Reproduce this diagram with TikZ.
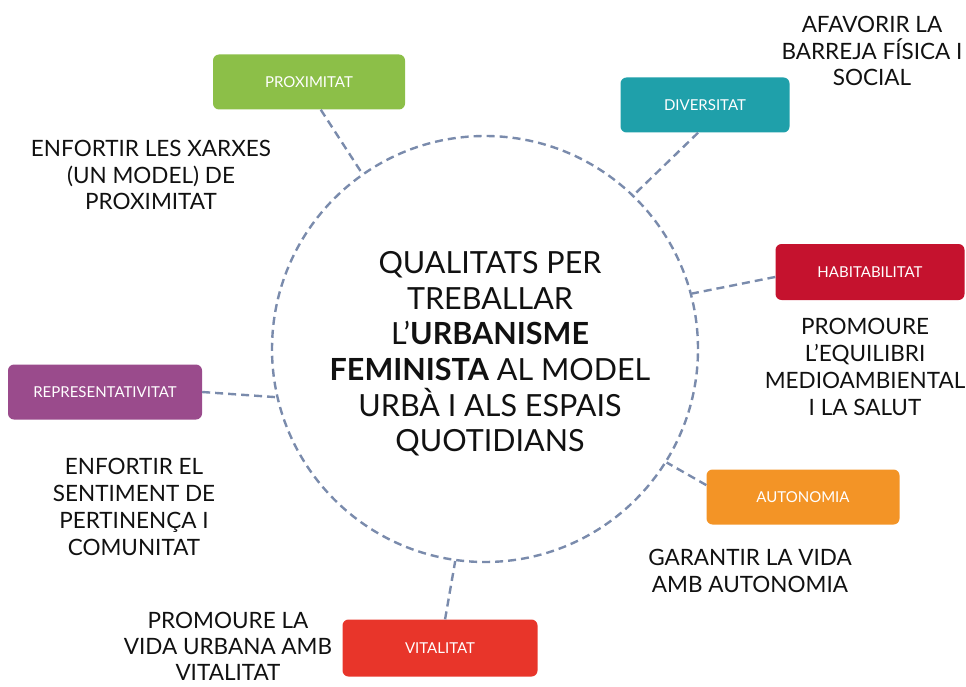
\documentclass[tikz,border=0pt]{standalone}
\usepackage{fontspec}
\setmainfont{Lato}
\definecolor{cGreen}{HTML}{8CBF48}
\definecolor{cTeal}{HTML}{1FA0AA}
\definecolor{cCrimson}{HTML}{C5122E}
\definecolor{cPurple}{HTML}{9A4B8C}
\definecolor{cRed}{HTML}{E8352A}
\definecolor{cOrange}{HTML}{F39426}
\definecolor{cLine}{HTML}{7A8BAC}
\definecolor{cText}{HTML}{111111}
\tikzset{
  qbox/.style={rounded corners=6pt, minimum height=55pt, text=white,
    font=\fontsize{15}{17}\selectfont, inner sep=0pt},
  conn/.style={draw=cLine, line width=2.4pt, dash pattern=on 8pt off 5pt},
  goal/.style={align=center, text=cText, font=\fontsize{22.5}{26.8}\selectfont, inner sep=0pt},
}
\begin{document}
\begin{tikzpicture}[x=1pt, y=-1pt]
\useasboundingbox (0,0) rectangle (966,687);
% central circle
\node[circle, conn, minimum size=426pt, inner sep=0pt] (C) at (485,349) {};
\node[align=center, text=cText, font=\fontsize{30.5}{35.6}\selectfont, inner sep=0pt] (T) at (490,354)
  {QUALITATS PER\\TREBALLAR\\L’\textbf{URBANISME}\\\textbf{FEMINISTA} AL MODEL\\URBÀ I ALS ESPAIS\\QUOTIDIANS};
% quality boxes
\node[qbox, fill=cGreen, minimum width=192pt] (P) at (309,82) {PROXIMITAT};
\node[qbox, fill=cTeal, minimum width=169pt] (D) at (705,105) {DIVERSITAT};
\node[qbox, fill=cCrimson, minimum width=189pt, minimum height=56pt] (H) at (870,272) {HABITABILITAT};
\node[qbox, fill=cPurple, minimum width=194pt] (R) at (105,392) {REPRESENTATIVITAT};
\node[qbox, fill=cOrange, minimum width=193pt] (A) at (803,497) {AUTONOMIA};
\node[qbox, fill=cRed, minimum width=195pt, minimum height=57pt] (V) at (440,648) {VITALITAT};
% goals
\node[goal] (gP) at (151,175) {ENFORTIR LES XARXES\\(UN MODEL) DE\\PROXIMITAT};
\node[goal] (gD) at (872,51) {AFAVORIR LA\\BARREJA FÍSICA I\\SOCIAL};
\node[goal] (gH) at (865,367) {PROMOURE\\L’EQUILIBRI\\MEDIOAMBIENTAL\\I LA SALUT};
\node[goal] (gR) at (134,507) {ENFORTIR EL\\SENTIMENT DE\\PERTINENÇA I\\COMUNITAT};
\node[goal] (gA) at (750,571) {GARANTIR LA VIDA\\AMB AUTONOMIA};
\node[goal, font=\fontsize{22.5}{26}\selectfont] (gV) at (228,646) {PROMOURE LA\\VIDA URBANA AMB\\VITALITAT};
% connectors
\draw[conn] (P.-67) -- (C.125);
\draw[conn] (D.-104) -- (C.46.7);
\draw[conn] (H.183) -- (C.15.4);
\draw[conn] (R.east) -- (C.193);
\draw[conn] (A.173) -- (C.-32.3);
\draw[conn] (V.80) -- (C.-98.8);
\end{tikzpicture}
\end{document}
